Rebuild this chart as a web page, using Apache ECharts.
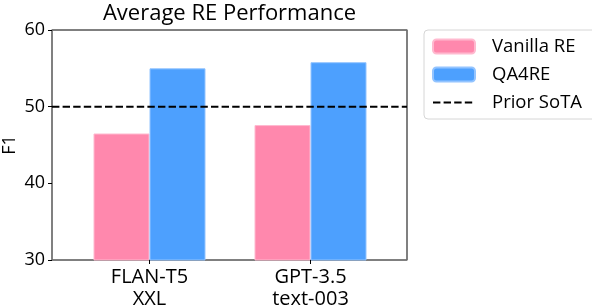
<!DOCTYPE html>
<html><head><meta charset="utf-8">
<script src="https://cdn.jsdelivr.net/npm/echarts@6/dist/echarts.min.js"></script>
<style>html,body{margin:0;padding:0;background:#fff}#c{width:592px;height:308px}</style>
</head><body><div id="c"></div>
<script>
const categories = ['FLAN-T5\nXXL', 'GPT-3.5\ntext-003'];
const vanillaRE = [46.5, 47.6];
const qa4re = [55.0, 55.8];
const priorSoTA = 50.0;
const yTicks = [30, 40, 50, 60];
const FONT = '"Open Sans", sans-serif';

const chart = echarts.init(document.getElementById('c'), null, {renderer: 'canvas'});
chart.setOption({
  animation: false,
  backgroundColor: '#fff',
  title: {
    text: 'Average RE Performance', left: 229.5, top: 0, textAlign: 'center', padding: 0,
    textStyle: {fontFamily: FONT, fontSize: 22, fontWeight: 'normal', color: '#000', lineHeight: 28}
  },
  legend: {
    orient: 'vertical', left: 424, top: 30,
    padding: [7, 14, 7, 8],
    itemWidth: 42, itemHeight: 14, itemGap: 9,
    borderColor: '#d6d6d6', borderWidth: 1, borderRadius: 4,
    textStyle: {fontFamily: FONT, fontSize: 18.5, color: '#000', padding: [0, 0, 0, 12]},
    data: ['Vanilla RE', 'QA4RE', {name: 'Prior SoTA', itemStyle: {opacity: 0}}]
  },
  grid: [
    {left: 52, right: 185, top: 30, bottom: 48, containLabel: false, outerBoundsMode: 'none',
      show: true, borderColor: '#000', borderWidth: 1, backgroundColor: 'transparent'},
    {left: 69, right: 201, top: 30, bottom: 48, containLabel: false, outerBoundsMode: 'none'}
  ],
  xAxis: [
    {type: 'value', gridIndex: 0, min: 0, max: 1, show: false},
    {type: 'category', gridIndex: 1, data: categories,
      axisLine: {show: false},
      axisTick: {show: true, alignWithLabel: true, length: 4, lineStyle: {color: '#000'}},
      axisLabel: {fontFamily: FONT, fontSize: 20, color: '#000', lineHeight: 22, margin: 6}}
  ],
  yAxis: [
    {type: 'value', gridIndex: 0, min: 30, max: 60, interval: 10,
      name: 'F1', nameLocation: 'middle', nameGap: 33, nameRotate: 90, nameMoveOverlap: false,
      nameTextStyle: {fontFamily: FONT, fontSize: 18, color: '#000'},
      axisLine: {show: true, lineStyle: {color: '#808080', width: 1.5}},
      axisTick: {show: true, length: 4, lineStyle: {color: '#000'}},
      axisLabel: {fontFamily: FONT, fontSize: 18, color: '#000', margin: 7},
      splitLine: {show: false}},
    {type: 'value', gridIndex: 0, position: 'right', min: 30, max: 60, interval: 10,
      axisLine: {show: true, lineStyle: {color: '#808080', width: 1.5}},
      axisTick: {show: false}, axisLabel: {show: false}, splitLine: {show: false}},
    {type: 'value', gridIndex: 1, min: 30, max: 60, interval: 10, show: false}
  ],
  series: [
    {name: 'Vanilla RE', type: 'bar', xAxisIndex: 1, yAxisIndex: 2, data: vanillaRE,
      barWidth: 56, barGap: '0%',
      itemStyle: {color: '#FF88AD', borderColor: '#FFB9CF', borderWidth: 1}},
    {name: 'QA4RE', type: 'bar', xAxisIndex: 1, yAxisIndex: 2, data: qa4re,
      barWidth: 56, barGap: '0%',
      itemStyle: {color: '#4DA0FE', borderColor: '#93C4FF', borderWidth: 1}},
    {name: 'Prior SoTA', type: 'line', xAxisIndex: 0, yAxisIndex: 0,
      data: [[0, priorSoTA], [1, priorSoTA]], symbol: 'none', z: 5,
      lineStyle: {color: '#000', width: 2, type: [7.4, 3.2]},
      itemStyle: {color: '#000'}}
  ]
});
</script></body></html>
